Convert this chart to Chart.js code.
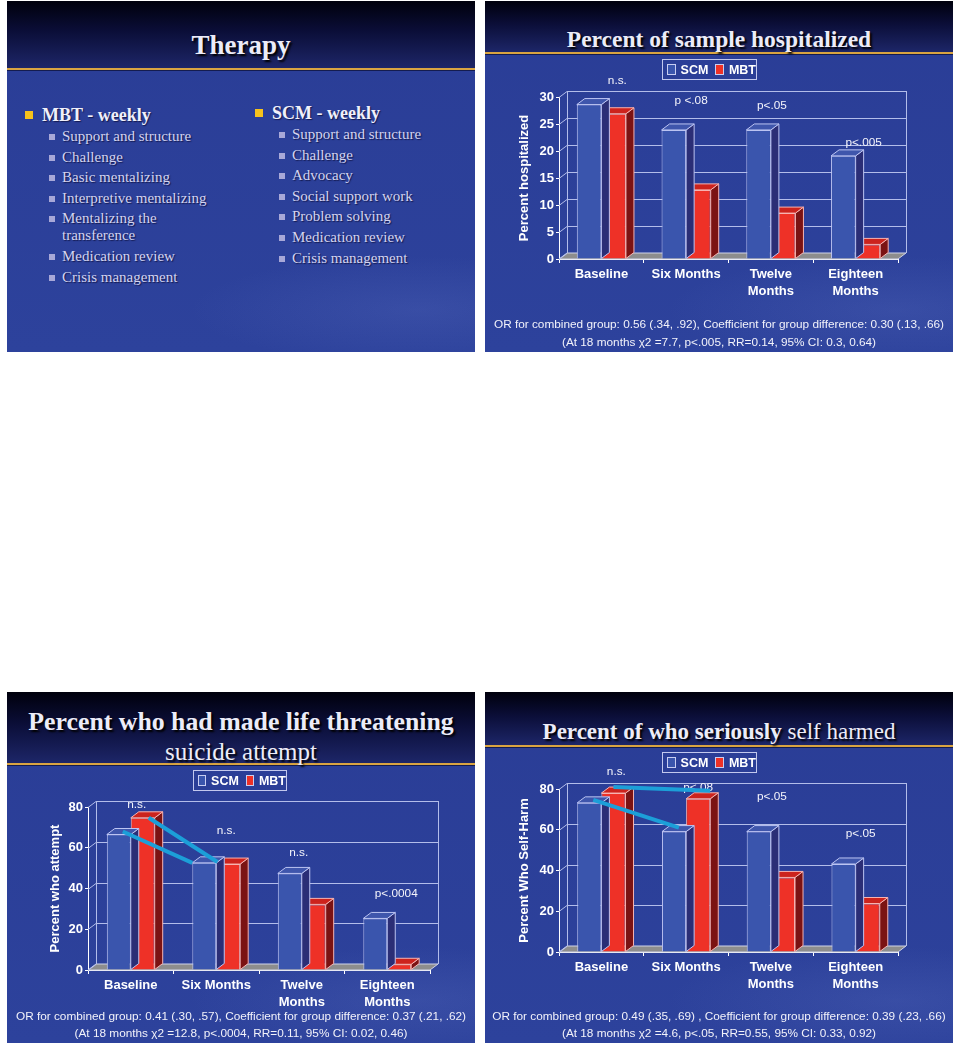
<!DOCTYPE html>
<html>
<head>
<meta charset="utf-8">
<script src="https://cdn.jsdelivr.net/npm/chart.js@4.4.1/dist/chart.umd.min.js"></script>
<style>
  body { margin:0; background:#fff; width:960px; height:1051px; position:relative; overflow:hidden; }
  .slide { position:absolute; width:468px; height:351px; overflow:hidden;
    background:
      radial-gradient(ellipse 70% 22% at 88% 88%, rgba(120,140,215,.16), rgba(0,0,0,0) 70%),
      linear-gradient(#2a3d96, #2d429c); }
  .head { position:absolute; left:0; top:0; width:100%;
    background:linear-gradient(#00000c, #0b0e38 45%, #1d2668);
    border-bottom:2px solid #d9a441; box-shadow:0 1px 0 #141c50; }
  .title { position:absolute; left:0; width:100%; text-align:center; white-space:nowrap;
    font-family:"Liberation Serif", serif; color:#ececf8; text-shadow:2px 2px 2px #000; }
  canvas { position:absolute; left:0; top:0; }
  .legend { position:absolute; height:19px; border:1px solid #c2c8ee; display:flex; align-items:center;
    justify-content:center; gap:3px; font:bold 12.5px "Liberation Sans", Arial, sans-serif; color:#fff; }
  .legend i { display:inline-block; width:9px; height:9px; margin:0 2px 0 4px; border:1px solid #c8cdf2; }
  .foot { position:absolute; left:0; width:100%; text-align:center; white-space:nowrap;
    font:11.8px "Liberation Sans", Arial, sans-serif; color:#f2f2fa; line-height:16px; }
  .li { position:absolute; white-space:nowrap; font-family:"Liberation Serif", serif; color:#d4d4f0;
    text-shadow:1px 1px 1px #141a50; line-height:20px; }
  .li.big { font-weight:bold; font-size:18px; color:#f0f0fa; }
  .li.small { font-size:15px; }
  .bul { position:absolute; }
</style>
</head>
<body>

<div class="slide" id="s1" style="left:7px;top:1px">
  <div class="head" style="height:67px"></div>
  <div class="title" style="top:28px;font-size:27px;font-weight:bold;line-height:32px">Therapy</div>
</div>

<div class="slide" id="s2" style="left:485px;top:1px">
  <div class="head" style="height:51px"></div>
  <div class="title" style="top:24px;font-size:23.5px;font-weight:bold;line-height:28px">Percent of sample hospitalized</div>
  <canvas id="hosp" width="468" height="351"></canvas>
  <div class="legend" style="left:177px;top:58px;width:93px"></div>
  <div class="foot" style="top:315px">OR for combined group: 0.56 (.34, .92), Coefficient for group difference: 0.30 (.13, .66)</div>
  <div class="foot" style="top:333px">(At 18 months χ2 =7.7, p&lt;.005, RR=0.14, 95% CI: 0.3, 0.64)</div>
</div>

<div class="slide" id="s3" style="left:7px;top:692px">
  <div class="head" style="height:71px"></div>
  <div class="title" style="top:15px;font-size:25.8px;font-weight:bold;line-height:30px">Percent who had made life threatening</div>
  <div class="title" style="top:45px;font-size:25px;line-height:30px">suicide attempt</div>
  <canvas id="attempt" width="468" height="351"></canvas>
  <div class="legend" style="left:186px;top:78px;width:92px"></div>
  <div class="foot" style="top:316px">OR for combined group: 0.41 (.30, .57), Coefficient for group difference: 0.37 (.21, .62)</div>
  <div class="foot" style="top:333px">(At 18 months χ2 =12.8, p&lt;.0004, RR=0.11, 95% CI: 0.02, 0.46)</div>
</div>

<div class="slide" id="s4" style="left:485px;top:692px">
  <div class="head" style="height:53px"></div>
  <div class="title" style="top:26px;font-size:23px;line-height:28px"><b>Percent of who seriously</b> self harmed</div>
  <canvas id="harm" width="468" height="351"></canvas>
  <div class="legend" style="left:177px;top:60px;width:93px"></div>
  <div class="foot" style="top:316px">OR for combined group: 0.49 (.35, .69) , Coefficient for group difference: 0.39 (.23, .66)</div>
  <div class="foot" style="top:333px">(At 18 months χ2 =4.6, p&lt;.05, RR=0.55, 95% CI: 0.33, 0.92)</div>
</div>

<script>
// ---- data ----
const categories = ['Baseline', 'Six Months', ['Twelve', 'Months'], ['Eighteen', 'Months']];
const seriesNames = ['SCM', 'MBT'];

const hospScm = [28.6, 23.9, 23.9, 19.1];
const hospMbt = [26.9, 12.8, 8.5, 2.7];
const hospTicks = [0, 5, 10, 15, 20, 25, 30];
const hospNotes = ['n.s.', 'p <.08', 'p<.05', 'p<.005'];

const attemptScm = [66.5, 52.6, 47.4, 25.3];
const attemptMbt = [74.7, 52.0, 32.2, 2.8];
const attemptTicks = [0, 20, 40, 60, 80];
const attemptNotes = ['n.s.', 'n.s.', 'n.s.', 'p<.0004'];

const harmScm = [73.2, 59.1, 59.1, 43.2];
const harmMbt = [78.0, 75.2, 36.6, 23.8];
const harmTicks = [0, 20, 40, 60, 80];
const harmNotes = ['n.s.', 'p<.08', 'p<.05', 'p<.05'];

const mbtItems = ['Support and structure', 'Challenge', 'Basic mentalizing', 'Interpretive mentalizing',
  ['Mentalizing the', 'transference'], 'Medication review', 'Crisis management'];
const scmItems = ['Support and structure', 'Challenge', 'Advocacy', 'Social support work',
  'Problem solving', 'Medication review', 'Crisis management'];

// ---- styles ----
const SANS = '"Liberation Sans", Arial, sans-serif';
const faces = [
  { front: '#3a55ad', top: '#3f56ac', side: '#2b2e76', edge: '#bcc4f2' },
  { front: '#ee3127', top: '#cc231d', side: '#7b1313', edge: '#f7b3b0' }
];
const DX = 8, DY = 6;

/* ===== Therapy slide (text only) ===== */
const s1 = document.getElementById('s1');
function addText(slide, cls, txt, x, cy) {
  const d = document.createElement('div');
  d.className = 'li ' + cls;
  d.textContent = txt;
  d.style.left = x + 'px';
  d.style.top = (cy - 10) + 'px';
  slide.appendChild(d);
}
function addBullet(slide, x, cy, size, color) {
  const b = document.createElement('div');
  b.className = 'bul';
  Object.assign(b.style, { left: x + 'px', top: (cy - size / 2) + 'px', width: size + 'px', height: size + 'px', background: color });
  slide.appendChild(b);
}
function column(title, items, x, cy) {
  addBullet(s1, x, cy, 8, '#f6c21c');
  addText(s1, 'big', title, x + 17, cy);
  let y = cy + 21;
  items.forEach(it => {
    addBullet(s1, x + 24, y + 1, 6, '#a8a8d8');
    const lines = Array.isArray(it) ? it : [it];
    lines.forEach((ln, k) => {
      addText(s1, 'small', ln, x + 37, y);
      y += (k < lines.length - 1) ? 17 : 20.6;
    });
  });
}
column('MBT - weekly', mbtItems, 18, 114);
column('SCM - weekly', scmItems, 248, 112);

/* ===== legends ===== */
document.querySelectorAll('.legend').forEach(el => {
  el.innerHTML = seriesNames.map((n, i) => `<i style="background:${faces[i].front}"></i>${n}`).join('');
});

/* ===== 3D bar plugins ===== */
function poly(ctx, pts) {
  ctx.beginPath();
  ctx.moveTo(pts[0][0], pts[0][1]);
  for (let i = 1; i < pts.length; i++) ctx.lineTo(pts[i][0], pts[i][1]);
  ctx.closePath();
}

const bar3d = {
  id: 'bar3d',
  beforeDatasetsDraw(chart) {
    const { ctx, chartArea: a, scales: { y } } = chart;
    ctx.save();
    ctx.lineWidth = 1;
    // floor
    ctx.fillStyle = '#8d8d8d';
    poly(ctx, [[a.left, a.bottom], [a.left + DX, a.bottom - DY], [a.right + DX, a.bottom - DY], [a.right, a.bottom]]);
    ctx.fill();
    ctx.strokeStyle = '#cfd3e8';
    ctx.stroke();
    // back wall + left wall grid
    ctx.strokeStyle = '#b3bdea';
    y.ticks.forEach(t => {
      const py = Math.round(y.getPixelForValue(t.value)) + 0.5;
      ctx.beginPath();
      ctx.moveTo(a.left, py);
      ctx.lineTo(a.left + DX, py - DY);
      if (t.value > 0) ctx.lineTo(a.right + DX, py - DY);
      ctx.stroke();
    });
    ctx.beginPath();
    ctx.moveTo(a.left + DX + 0.5, a.bottom - DY); ctx.lineTo(a.left + DX + 0.5, a.top - DY);
    ctx.moveTo(a.right + DX + 0.5, a.bottom - DY); ctx.lineTo(a.right + DX + 0.5, a.top - DY);
    ctx.stroke();
    ctx.restore();
  },
  afterDatasetDraw(chart, args) {
    const c = faces[args.index];
    const { ctx } = chart;
    ctx.save();
    ctx.lineWidth = 1;
    ctx.strokeStyle = c.edge;
    args.meta.data.forEach(bar => {
      const l = bar.x - bar.width / 2, r = bar.x + bar.width / 2, t = bar.y, b = bar.base;
      poly(ctx, [[r, t], [r + DX, t - DY], [r + DX, b - DY], [r, b]]);
      ctx.fillStyle = c.side; ctx.fill(); ctx.stroke();
      poly(ctx, [[l, t], [l + DX, t - DY], [r + DX, t - DY], [r, t]]);
      ctx.fillStyle = c.top; ctx.fill(); ctx.stroke();
    });
    ctx.restore();
  }
};

// p-value notes above each group (dx offset from group centre, height in axis units)
function notesPlugin(texts, places) {
  return {
    id: 'notes',
    afterDatasetsDraw(chart) {
      const { ctx, scales: { x, y } } = chart;
      ctx.save();
      ctx.font = '11.8px ' + SANS;
      ctx.fillStyle = '#f4f4fb';
      ctx.textAlign = 'center';
      ctx.textBaseline = 'middle';
      texts.forEach((t, i) => {
        ctx.fillText(t, x.getPixelForValue(i) + places[i][0], y.getPixelForValue(places[i][1]));
      });
      ctx.restore();
    }
  };
}

// hand-drawn style connectors from baseline bar tops to six-month bars
function linksPlugin(links) {
  return {
    id: 'links',
    afterDatasetsDraw(chart) {
      const { ctx } = chart;
      ctx.save();
      ctx.strokeStyle = '#1c9fd8';
      ctx.lineWidth = 4;
      links.forEach(k => {
        const meta = chart.getDatasetMeta(k.ds);
        const a = meta.data[0], b = meta.data[1];
        const x0 = a.x + DX / 2 + k.shift, y0 = a.y - DY / 2 - k.lift0;
        const x1 = b.x - b.width / 2 + b.width * k.frac, y1 = b.y - k.lift1;
        ctx.beginPath();
        ctx.moveTo(x0, y0);
        ctx.lineTo(x1, y1);
        ctx.stroke();
      });
      ctx.restore();
    }
  };
}

function makeChart(id, scm, mbt, ticks, yTitle, box, extra) {
  const tickFont = { family: SANS, size: 13, weight: 'bold', lineHeight: 1.3 };
  return new Chart(document.getElementById(id), {
    type: 'bar',
    data: {
      labels: categories,
      datasets: [scm, mbt].map((d, i) => ({
        label: seriesNames[i],
        data: d,
        backgroundColor: faces[i].front,
        borderColor: faces[i].edge,
        borderWidth: 1,
        barPercentage: 1.0,
        categoryPercentage: box.cat
      }))
    },
    options: {
      responsive: false,
      animation: false,
      layout: { padding: { left: box.padLeft, top: box.top, right: 468 - box.right, bottom: 351 - box.bottom - 40 } },
      plugins: { legend: { display: false }, tooltip: { enabled: false } },
      scales: {
        x: {
          grid: { display: true, drawOnChartArea: false, drawTicks: true, tickLength: 4, color: '#ffffff' },
          border: { color: '#ffffff', width: 1 },
          ticks: { color: '#ffffff', font: tickFont, padding: 3, maxRotation: 0, autoSkip: false },
          afterFit: s => { s.height = 40; }
        },
        y: {
          min: ticks[0],
          max: ticks[ticks.length - 1],
          afterBuildTicks: s => { s.ticks = ticks.map(v => ({ value: v })); },
          grid: { display: true, drawOnChartArea: false, drawTicks: true, tickLength: 3, color: '#ffffff' },
          border: { color: '#ffffff', width: 1 },
          ticks: { color: '#ffffff', font: tickFont, padding: 2 },
          title: { display: true, text: yTitle, color: '#ffffff', font: { family: SANS, size: 13, weight: 'bold' }, padding: { top: 4, bottom: 4 } },
          afterFit: s => { s.width = box.left - box.padLeft; }
        }
      }
    },
    plugins: [bar3d].concat(extra)
  });
}

makeChart('hosp', hospScm, hospMbt, hospTicks, 'Percent hospitalized',
  { left: 74, right: 413, top: 96, bottom: 258, padLeft: 28, cat: 0.58 },
  [notesPlugin(hospNotes, [[16, 33.1], [5, 29.3], [1, 28.3], [8, 21.5]])]);

makeChart('attempt', attemptScm, attemptMbt, attemptTicks, 'Percent who attempt',
  { left: 81, right: 423, top: 115, bottom: 278, padLeft: 37, cat: 0.56 },
  [notesPlugin(attemptNotes, [[6, 80.9], [10, 68.3], [-3, 57.5], [9, 37.6]]),
   linksPlugin([{ ds: 0, shift: 0, lift0: 0, frac: 0, lift1: 0 }, { ds: 1, shift: 2, lift0: -3, frac: 0.05, lift1: 2 }])]);

makeChart('harm', harmScm, harmMbt, harmTicks, 'Percent Who Self-Harm',
  { left: 74, right: 413, top: 97, bottom: 260, padLeft: 28, cat: 0.57 },
  [notesPlugin(harmNotes, [[15, 88.7], [12, 80.5], [1, 76], [5, 58]]),
   linksPlugin([{ ds: 0, shift: 0, lift0: 0, frac: 0.7, lift1: 4 }, { ds: 1, shift: -4, lift0: 3, frac: 1.0, lift1: 8 }])]);
</script>
</body>
</html>
